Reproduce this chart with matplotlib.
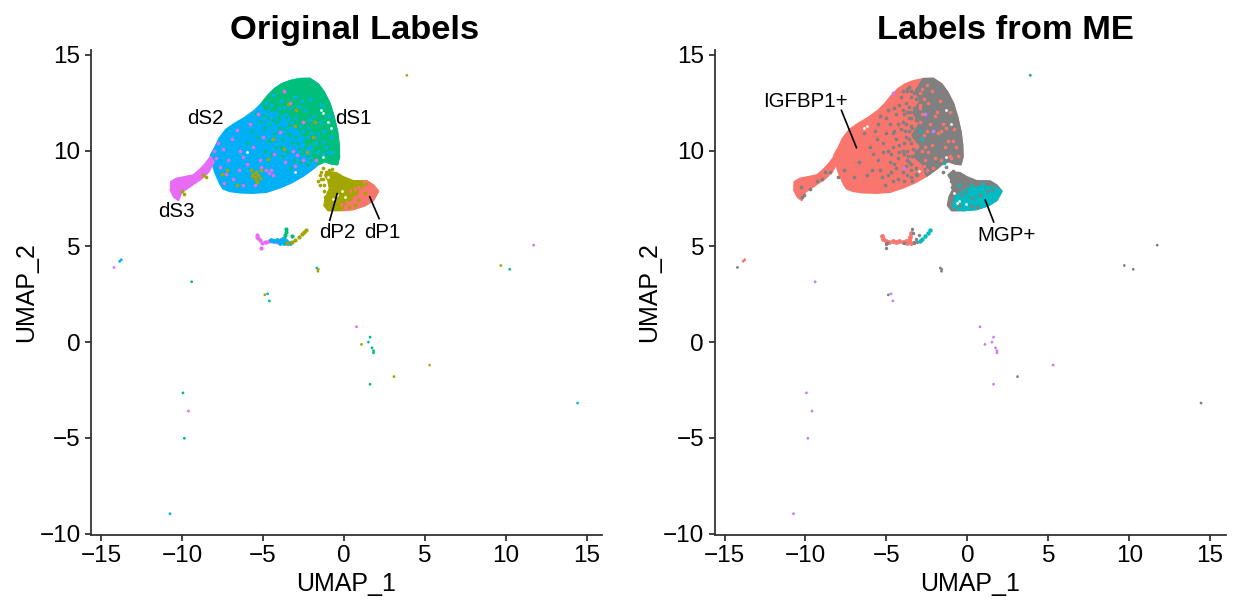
import matplotlib
matplotlib.use("Agg")
import matplotlib.pyplot as plt

plt.rcParams['font.family'] = ['Liberation Sans', 'DejaVu Sans']

RED = "#F8766D"
OLIVE = "#A3A500"
GREEN = "#00BF7D"
BLUE = "#00B0F6"
PINK = "#E76BF3"
GREY = "#808080"
TEAL = "#00BCC2"
PURPLE = "#C77CFF"

# outlines of the dense clouds (UMAP units)
main_x = [-7.65, -7.45, -7.04, -6.42, -5.60, -4.77, -3.95, -3.23, -2.51, -1.89, -1.59, -1.17, -0.76, -0.41, -0.29, -0.31, -0.41, -0.62, -0.87, -1.24, -1.59, -2.10, -2.72, -3.33, -3.85, -4.26, -4.67, -5.08, -5.49, -6.11, -6.73, -7.28, -7.70, -7.96, -8.23, -8.11, -7.96]
main_y = [8.27, 8.01, 7.88, 7.81, 7.79, 7.84, 8.07, 8.33, 8.68, 9.06, 9.28, 9.44, 9.32, 9.28, 9.67, 10.28, 10.97, 11.75, 12.45, 13.06, 13.46, 13.75, 13.74, 13.63, 13.46, 13.23, 12.88, 12.45, 12.10, 11.72, 11.41, 11.09, 10.62, 10.15, 9.75, 9.32, 8.88]
green_x = [-5.08, -4.7, -4.36, -4.0, -3.6, -3.33, -3.0, -2.5, -2.3, -1.9, -1.95, -1.59, -1.17, -0.76, -0.41, -0.29, -0.31, -0.41, -0.62, -0.87, -1.24, -1.59, -2.10, -2.72, -3.33, -3.85, -4.26, -4.67]
green_y = [12.45, 12.0, 12.15, 11.6, 11.85, 11.3, 11.45, 10.7, 10.25, 10.4, 9.75, 9.28, 9.44, 9.32, 9.28, 9.67, 10.28, 10.97, 11.75, 12.45, 13.06, 13.46, 13.75, 13.74, 13.63, 13.46, 13.23, 12.88]
tail_x = [-10.68, -10.33, -9.82, -9.30, -8.93, -8.58, -8.23, -8.03, -8.37, -8.79, -9.20, -9.71, -10.02, -10.23, -10.49, -10.70]
tail_y = [8.36, 8.54, 8.62, 8.71, 8.97, 9.28, 9.67, 9.41, 8.88, 8.54, 8.31, 8.01, 7.84, 7.41, 7.58, 7.93]
dp_x = [-1.17, -0.97, -0.45, -0.04, 0.58, 1.40, 1.81, 2.12, 1.81, 1.30, 0.58, -0.25, -0.97, -1.21, -1.11, -0.87, -0.97]
dp_y = [8.71, 8.88, 8.83, 8.62, 8.41, 8.40, 8.19, 7.88, 7.41, 7.14, 6.94, 6.88, 6.88, 7.14, 7.58, 8.01, 8.45]
dp1_x = [1.23, 1.40, 1.81, 2.12, 1.81, 1.30, 0.58, -0.04, 0.58, 1.09]
dp1_y = [8.40, 8.40, 8.19, 7.88, 7.41, 7.14, 6.94, 6.88, 7.41, 7.84]
grey_x = [-2.10, -1.59, -1.24, -0.87, -0.62, -0.41, -0.31, -0.29, -0.41, -0.76, -1.17, -1.59, -1.89, -2.51, -2.75, -3.3, -2.85, -3.4, -2.95, -3.35, -2.9, -3.2, -2.72]
grey_y = [13.75, 13.46, 13.06, 12.45, 11.75, 10.97, 10.28, 9.67, 9.28, 9.32, 9.44, 9.28, 9.06, 8.68, 9.3, 9.7, 10.2, 10.8, 11.4, 12.0, 12.6, 13.1, 13.74]
mgp_x = [-0.9, -0.74, -0.02, 1.0, 1.63, 2.12, 1.81, 1.30, 0.58, -0.25]
mgp_y = [6.97, 7.58, 8.0, 8.1, 8.1, 7.88, 7.41, 7.14, 6.94, 6.88]

# speckles on top of the clouds
pink_pts = [(-5.8, 11.4), (-6.6, 11.06), (-7.45, 10.1), (-6.4, 10.0), (-5.6, 10.2), (-7.25, 8.8), (-7.65, 9.15),
            (-6.0, 9.3), (-5.1, 9.15), (-4.5, 8.97), (-3.13, 10.0), (-2.9, 9.75), (-3.95, 10.97), (-3.33, 12.5),
            (-2.5, 11.5), (-5.0, 10.7), (-6.83, 8.5), (-4.36, 8.7), (-7.15, 9.5), (-6.2, 9.67), (-5.2, 9.5),
            (-2.5, 9.5), (-3.64, 9.4), (-4.8, 9.0), (-4.6, 8.85), (-6.5, 9.0), (-8.0, 10.0), (-7.9, 9.6), (-7.75, 10.4),
            (-5.5, 8.2), (-6.9, 10.6), (-4.3, 9.8), (-3.0, 9.2), (-1.7, 9.5), (-3.7, 13.1), (-6.2, 8.2), (-7.4, 8.3), (-5.3, 11.9)]
olive_pts = [(-5.6, 8.8), (-5.5, 8.6), (-5.4, 8.9), (-5.3, 8.7), (-5.75, 9.0), (-5.2, 8.55), (-5.45, 8.45), (-7.55, 8.8),
             (-4.67, 9.58), (-3.44, 12.45), (-2.93, 12.1), (-4.36, 10.6), (-1.9, 10.7), (-8.7, 8.7), (-8.5, 8.6),
             (-10.0, 7.9), (-9.9, 7.75), (-5.1, 9.0), (-2.3, 9.9), (-3.0, 11.3), (-6.6, 8.2), (-1.3, 9.1), (-1.5, 8.7), (-1.4, 8.5),
             (-5.65, 8.65), (-5.35, 8.35), (-7.2, 9.0), (-3.7, 10.1), (-1.8, 11.5)]
blue_in_green = [(-4.5, 12.4), (-4.2, 12.0), (-3.9, 12.6), (-3.6, 11.9), (-3.3, 12.2), (-3.0, 11.7), (-2.7, 11.3), (-3.0, 12.8),
                 (-2.4, 12.1), (-2.2, 11.2), (-2.0, 10.9), (-1.7, 10.4), (-1.5, 11.5), (-1.2, 11.0), (-1.1, 10.2), (-0.9, 11.8),
                 (-0.8, 10.7), (-1.6, 9.9), (-1.3, 9.8), (-2.6, 12.6), (-3.5, 11.5), (-4.1, 11.9), (-4.7, 12.1), (-3.2, 11.5),
                 (-2.9, 11.0), (-2.3, 10.7), (-1.9, 11.8), (-1.4, 12.4), (-2.1, 12.7), (-0.7, 9.9),
                 (-4.4, 12.9), (-4.0, 12.2), (-3.7, 12.3), (-3.4, 11.7), (-2.8, 12.3), (-2.5, 11.0), (-2.1, 11.6), (-1.8, 10.7),
                 (-1.3, 10.5), (-1.0, 9.9), (-3.8, 11.8), (-3.1, 11.1), (-2.6, 10.7), (-2.0, 10.2), (-1.6, 10.9), (-4.8, 12.5)]
green_in_blue = [(-5.2, 11.5), (-4.9, 11.2), (-4.6, 11.4), (-4.3, 10.9), (-4.0, 11.2), (-3.8, 10.6), (-3.5, 10.9), (-3.2, 10.4),
                 (-3.0, 10.7), (-2.8, 10.1), (-2.6, 9.8), (-2.4, 10.2), (-2.2, 9.7), (-2.0, 9.5), (-3.5, 9.9), (-4.2, 10.2),
                 (-3.8, 9.7), (-5.3, 10.7), (-4.7, 10.5), (-3.1, 9.5), (-2.7, 9.4), (-4.5, 9.8),
                 (-5.4, 11.9), (-5.0, 11.8), (-4.7, 11.7), (-4.4, 11.6), (-4.1, 11.5), (-3.7, 11.2), (-3.4, 11.3), (-3.3, 10.8), (-2.9, 10.4),
                 (-2.5, 10.0), (-2.3, 9.3), (-3.9, 10.2), (-4.9, 10.0), (-3.3, 9.1), (-5.7, 11.0), (-6.0, 10.4)]
red_in_dp = [(0.4, 7.9), (0.6, 7.6), (0.2, 7.3), (0.9, 8.1), (0.7, 8.0), (0.1, 7.1), (-0.2, 7.2), (0.5, 7.2), (1.0, 7.9), (0.85, 7.5)]
olive_in_red = [(1.1, 8.2), (1.3, 7.8), (0.9, 7.4), (0.7, 7.15), (0.35, 7.05), (1.4, 8.25)]
white_left = [(-1.4, 12.1), (-1.3, 11.95), (-1.0, 11.5), (-0.8, 11.2), (-1.3, 9.65), (-6.0, 9.9), (-3.0, 8.9), (-0.4, 7.7), (-0.1, 7.9), (-1.0, 8.6), (-0.65, 7.45), (0.1, 7.6)]
dp_fringe = [(-1.6, 8.4), (-1.5, 8.2), (-1.3, 8.5), (-1.25, 8.2), (-1.1, 8.9), (-0.9, 9.0), (-1.2, 7.9), (-1.15, 7.6), (-1.4, 8.9), (-0.75, 9.05)]

grey_in_red = [(-7.6, 9.0), (-7.0, 8.6), (-6.7, 9.4), (-6.2, 8.7), (-6.0, 10.2), (-5.7, 11.0), (-5.5, 9.5), (-5.2, 10.4), (-5.0, 11.7), (-4.9, 8.7),
               (-4.7, 9.8), (-4.6, 10.9), (-4.5, 12.2), (-4.4, 9.1), (-4.3, 11.4), (-4.2, 10.3), (-4.1, 12.8), (-4.0, 8.9), (-3.9, 9.8), (-3.9, 11.9), (-3.8, 10.7),
               (-3.7, 13.1), (-3.6, 9.4), (-3.6, 12.3), (-4.5, 11.0), (-4.3, 9.6), (-4.0, 11.5), (-4.7, 8.9), (-5.3, 8.6), (-5.5, 11.4), (-8.5, 8.9), (-8.8, 8.9),
               (-9.0, 8.5), (-9.3, 8.4), (-9.7, 8.0), (-10.1, 7.7), (-10.2, 7.55), (-10.3, 8.1), (-8.0, 8.6), (-6.4, 10.9), (-5.9, 9.0), (-4.9, 10.0), (-3.5, 8.6), (-3.2, 8.8),
               (-5.8, 9.8), (-5.6, 10.6), (-5.4, 9.0), (-5.4, 11.8), (-5.2, 9.9), (-5.1, 8.2), (-5.0, 10.9), (-4.9, 12.1), (-4.8, 9.4), (-4.8, 11.4), (-4.6, 8.4), (-4.6, 10.2),
               (-4.5, 9.3), (-4.4, 11.9), (-4.4, 10.6), (-4.3, 8.5), (-4.2, 12.4), (-4.2, 9.9), (-4.1, 11.1), (-4.0, 10.0), (-4.0, 13.1), (-3.9, 8.4), (-3.9, 10.4), (-3.8, 9.2),
               (-3.8, 11.4), (-3.8, 12.5), (-3.7, 10.0), (-3.7, 8.7), (-3.7, 12.0), (-3.6, 11.0), (-3.6, 13.3), (-3.5, 9.0), (-3.5, 10.4), (-3.5, 11.7), (-3.5, 12.8), (-3.4, 9.7),
               (-3.4, 11.2), (-3.4, 8.4), (-3.3, 10.7), (-3.3, 12.2), (-3.3, 13.0), (-3.2, 9.1), (-3.2, 10.0), (-3.2, 11.6), (-3.2, 12.7), (-3.1, 8.7), (-3.1, 10.5),
               (-3.6, 10.6), (-3.65, 9.7), (-3.55, 12.0), (-3.45, 13.1), (-3.5, 11.3), (-3.35, 10.1), (-3.45, 9.3), (-3.6, 11.7), (-3.75, 13.2), (-3.7, 9.5), (-3.85, 11.0), (-3.95, 12.1)]
red_in_grey = [(-2.8, 13.2), (-2.9, 12.4), (-2.9, 11.5), (-2.8, 10.6), (-2.8, 10.0), (-2.9, 13.0), (-2.8, 11.9), (-2.7, 10.8), (-2.6, 9.5), (-2.4, 12.5), (-2.3, 11.4),
               (-2.2, 10.3), (-2.0, 9.6), (-1.9, 12.0), (-1.8, 10.9), (-1.5, 11.4), (-1.4, 10.2), (-1.1, 12.0), (-0.9, 10.5), (-2.7, 9.2), (-2.5, 13.4), (-1.6, 9.5), (-1.0, 9.6),
               (-2.9, 12.2), (-2.9, 9.1), (-2.7, 12.7), (-2.6, 10.2), (-2.5, 11.0), (-2.5, 9.0), (-2.4, 9.9), (-2.2, 13.1), (-2.1, 9.1), (-2.0, 11.8), (-1.7, 12.6), (-1.6, 11.0),
               (-1.3, 11.2), (-1.2, 10.5), (-0.8, 11.1), (-0.7, 10.2), (-0.6, 9.7), (-1.1, 9.7)]
white_right = [(-6.4, 11.2), (-6.2, 11.3), (-1.3, 12.1), (-1.0, 11.4), (-1.3, 9.65), (-3.0, 8.95), (-0.65, 7.25), (-0.5, 7.35), (-0.1, 7.2), (-0.8, 7.8)]
grey_in_mgp = [(-0.3, 7.7), (0.3, 7.5), (0.8, 7.7), (1.2, 7.9), (0.2, 7.1), (-0.5, 7.1), (1.5, 8.0), (-0.8, 6.95), (0.6, 7.05), (-0.1, 7.9)]
dp_fringe_right = [(-1.1, 8.7), (-1.0, 8.4), (-0.9, 8.95), (-0.95, 8.1), (-1.3, 9.15), (-1.5, 8.9), (-0.85, 7.9)]
teal_in_grey = [(-0.5, 8.2), (0.2, 8.2), (0.9, 8.25), (-2.9, 11.0), (-2.8, 10.6), (-1.45, 9.35)]
purple_in_grey = [(-2.6, 11.9), (-2.1, 11.0), (-4.6, 13.0), (-3.9, 9.1)]

# small cluster near y = 5
small_pink = [(-5.39, 5.6), (-5.35, 5.5), (-5.3, 5.42), (-5.2, 5.35), (-5.05, 5.2), (-4.9, 5.25), (-4.8, 5.25), (-4.6, 5.3), (-4.45, 5.3), (-5.1, 4.9), (-4.1, 5.25)]
small_blue = [(-4.5, 5.35), (-4.3, 5.3), (-4.1, 5.35), (-3.95, 5.2), (-3.8, 5.3), (-3.7, 5.15), (-3.6, 5.3), (-3.5, 5.15), (-3.9, 5.35), (-3.75, 5.4), (-3.3, 5.2)]
small_green = [(-3.55, 5.9), (-3.6, 5.75), (-3.65, 5.6), (-3.68, 5.45), (-3.2, 5.55)]
small_olive = [(-3.5, 5.2), (-3.2, 5.25), (-3.0, 5.35), (-2.8, 5.5), (-2.6, 5.65), (-2.45, 5.75), (-2.35, 5.85)]
small_red_r = [(-5.3, 5.55), (-5.2, 5.4), (-5.05, 5.3), (-4.85, 5.25), (-4.6, 5.3), (-4.4, 5.25), (-4.2, 5.3), (-4.0, 5.25), (-3.8, 5.3), (-3.6, 5.35), (-3.55, 5.5), (-3.5, 5.7), (-3.7, 5.2), (-3.45, 5.2)]
small_grey_r = [(-5.05, 5.1), (-4.95, 5.2), (-5.0, 4.9), (-3.9, 5.2), (-3.3, 5.25), (-3.2, 5.4), (-3.3, 5.15), (-3.4, 5.9), (-3.35, 5.7), (-3.1, 5.25), (-3.0, 5.6)]
small_teal_r = [(-2.95, 5.3), (-2.8, 5.4), (-2.6, 5.55), (-2.45, 5.7), (-2.3, 5.85)]

# isolated cells: x, y, colour left, colour right
lone_x = [-14.2, -13.85, -13.75, -9.4, -4.71, -4.88, -4.6, -1.67, -1.58, -1.6, 0.78, 1.62, 1.52, 1.09, 1.74, 1.83, 1.83, 3.1, 1.62, -9.94, -9.6, -9.85, -10.74, 3.89, 5.3, 9.7, 10.25, 11.73, 14.44]
lone_y = [3.9, 4.22, 4.3, 3.15, 2.52, 2.47, 2.15, 3.87, 3.8, 3.7, 0.8, 0.26, 0.0, -0.12, -0.3, -0.45, -0.56, -1.8, -2.2, -2.65, -3.6, -5.02, -8.96, 13.93, -1.2, 4.0, 3.8, 5.06, -3.18]
lone_left = [PINK, BLUE, BLUE, GREEN, BLUE, OLIVE, GREEN, BLUE, OLIVE, OLIVE, PINK, GREEN, BLUE, OLIVE, GREEN, GREEN, GREEN, OLIVE, GREEN, GREEN, PINK, GREEN, BLUE, "#C89A20", "#C8A020", OLIVE, GREEN, PINK, "#10BFD0"]
lone_right = [GREY, RED, RED, PURPLE, PURPLE, GREY, PURPLE, GREY, GREY, GREY, PURPLE, PURPLE, PURPLE, PURPLE, PURPLE, PURPLE, PURPLE, GREY, PURPLE, PURPLE, PURPLE, PURPLE, PURPLE, "#20A0A0", PURPLE, GREY, GREY, GREY, GREY]

# annotation segments: x0, y0, x1, y1
dp2_line = [-0.41, 7.75, -0.87, 6.36]
dp1_line = [1.6, 7.58, 2.18, 6.45]
igfbp_line = [-7.78, 12.1, -6.85, 10.15]
mgp_line = [1.11, 7.41, 1.63, 6.27]

ticks_x = [-15, -10, -5, 0, 5, 10, 15]
ticks_y = [-10, -5, 0, 5, 10, 15]


def cloud(ax, xs, ys, color, z):
    ax.fill(xs, ys, color=color, lw=1.5, joinstyle='round', zorder=z)


def dots(ax, pts, color, z, s=7):
    ax.scatter([p[0] for p in pts], [p[1] for p in pts], s=s, color=color, linewidths=0, zorder=z)


def style(ax, title, title_x):
    ax.set_xlim(-15.62, 15.95)
    ax.set_ylim(-10.07, 15.25)
    ax.set_xticks(ticks_x)
    ax.set_yticks(ticks_y)
    ax.tick_params(labelsize=17.5, length=4, width=1.3, color='#333333', pad=3.5)
    ax.spines['top'].set_visible(False)
    ax.spines['right'].set_visible(False)
    for side in ['left', 'bottom']:
        ax.spines[side].set_linewidth(1.3)
        ax.spines[side].set_color('#333333')
    ax.set_xlabel("UMAP_1", fontsize=18, labelpad=3.5)
    ax.set_ylabel("UMAP_2", fontsize=18, labelpad=1)
    ax.set_title(title, fontsize=24.8, fontweight='bold', pad=8, x=title_x)


fig = plt.figure(figsize=(12.33, 6.0), dpi=100)
ax1 = fig.add_axes([91 / 1233, 1 - 535 / 600, 511 / 1233, 485 / 600])
ax2 = fig.add_axes([714.5 / 1233, 1 - 535 / 600, 511 / 1233, 485 / 600])

# left panel
cloud(ax1, main_x, main_y, BLUE, 2)
cloud(ax1, green_x, green_y, GREEN, 3)
cloud(ax1, tail_x, tail_y, PINK, 2)
cloud(ax1, dp_x, dp_y, OLIVE, 2)
cloud(ax1, dp1_x, dp1_y, RED, 3)
dots(ax1, blue_in_green, BLUE, 4)
dots(ax1, green_in_blue, GREEN, 4)
dots(ax1, pink_pts, PINK, 5)
dots(ax1, olive_pts, OLIVE, 6)
dots(ax1, red_in_dp, RED, 4)
dots(ax1, olive_in_red, OLIVE, 4)
dots(ax1, dp_fringe, OLIVE, 4)
dots(ax1, white_left, 'white', 7, s=4)
dots(ax1, small_pink, PINK, 4, s=9)
dots(ax1, small_blue, BLUE, 5, s=12)
dots(ax1, small_green, GREEN, 4, s=9)
dots(ax1, small_olive, OLIVE, 6, s=9)
ax1.scatter(lone_x, lone_y, s=4, c=lone_left, linewidths=0, zorder=4)
ax1.plot(dp2_line[::2], dp2_line[1::2], color='black', lw=1.2, zorder=8)
ax1.plot(dp1_line[::2], dp1_line[1::2], color='black', lw=1.2, zorder=8)
for label, x, y in [("dS2", -8.58, 11.68), ("dS1", 0.62, 11.68), ("dS3", -10.37, 6.83), ("dP2", -0.43, 5.74), ("dP1", 2.4, 5.74)]:
    ax1.text(x, y, label, fontsize=14.8, ha='center', va='center', zorder=9)
style(ax1, "Original Labels", 0.515)

# right panel
cloud(ax2, main_x, main_y, RED, 2)
cloud(ax2, grey_x, grey_y, GREY, 3)
cloud(ax2, tail_x, tail_y, RED, 2)
cloud(ax2, dp_x, dp_y, GREY, 2)
cloud(ax2, mgp_x, mgp_y, TEAL, 3)
dots(ax2, grey_in_red, GREY, 4)
dots(ax2, red_in_grey, RED, 4)
dots(ax2, grey_in_mgp, GREY, 4)
dots(ax2, dp_fringe_right, GREY, 4)
dots(ax2, teal_in_grey, TEAL, 5)
dots(ax2, purple_in_grey, PURPLE, 5)
dots(ax2, white_right, 'white', 7, s=4)
dots(ax2, small_red_r, RED, 4, s=12)
dots(ax2, small_grey_r, GREY, 5, s=6)
dots(ax2, small_teal_r, TEAL, 5, s=10)
ax2.scatter(lone_x, lone_y, s=4, c=lone_right, linewidths=0, zorder=4)
ax2.plot(igfbp_line[::2], igfbp_line[1::2], color='black', lw=1.2, zorder=8)
ax2.plot(mgp_line[::2], mgp_line[1::2], color='black', lw=1.2, zorder=8)
for label, x, y in [("IGFBP1+", -10.0, 12.57), ("MGP+", 2.41, 5.58)]:
    ax2.text(x, y, label, fontsize=14.8, ha='center', va='center', zorder=9)
style(ax2, "Labels from ME", 0.570)

fig.savefig("out.png", dpi=100)
